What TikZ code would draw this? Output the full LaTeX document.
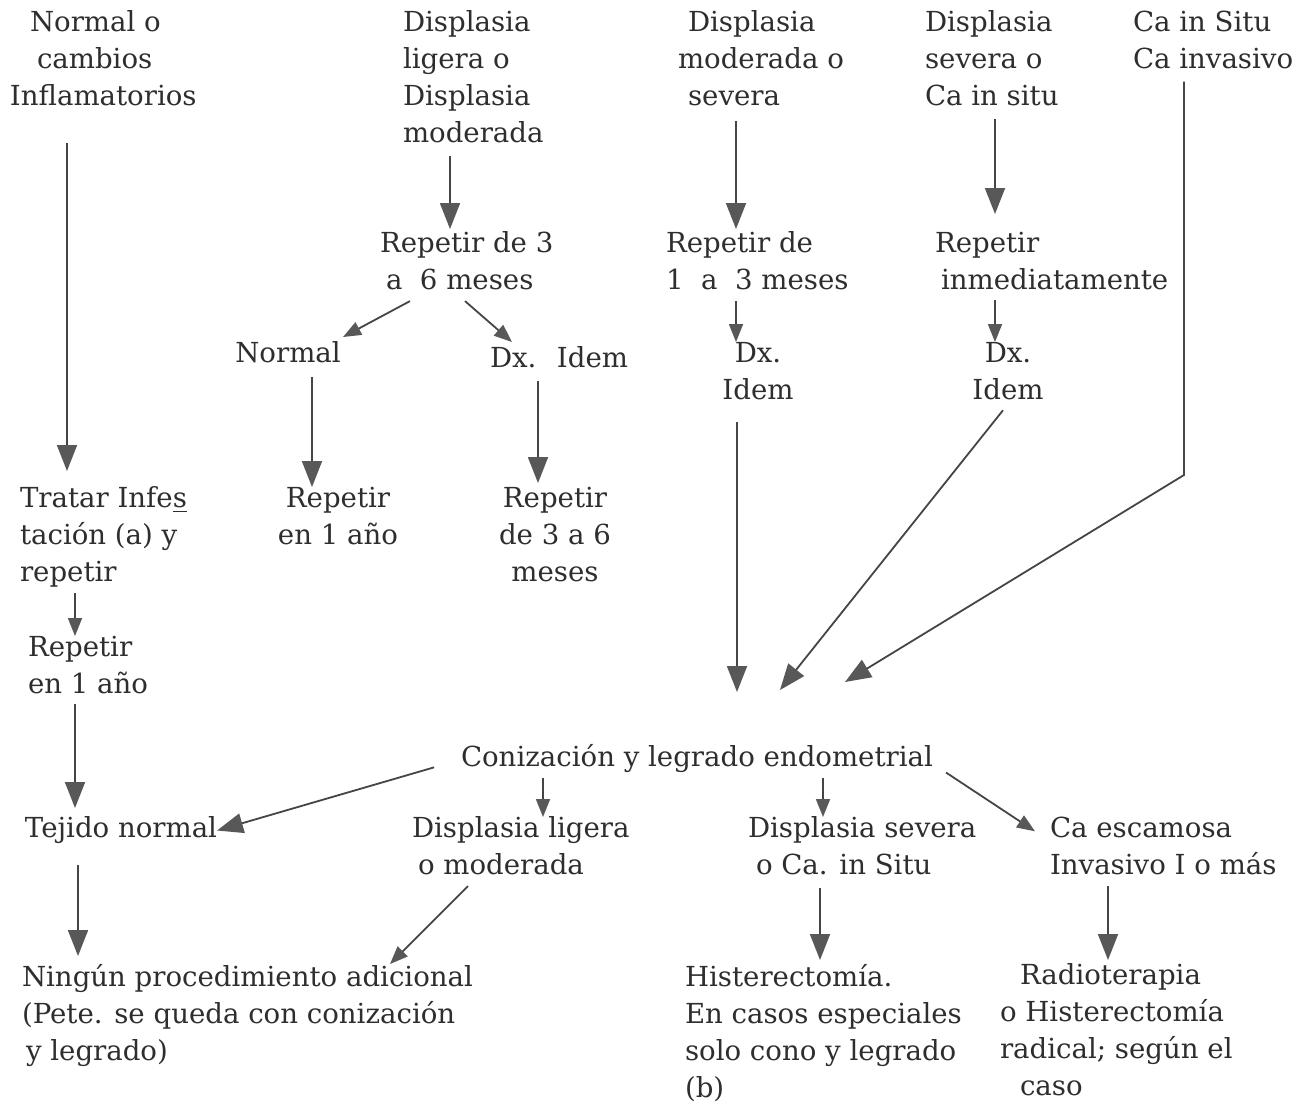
\documentclass[tikz,border=0pt]{standalone}
\usepackage{fontspec}
\setmainfont{DejaVu Serif}
\usetikzlibrary{arrows.meta,calc}
\definecolor{ink}{HTML}{2E2E2E}
\definecolor{lnk}{HTML}{454545}
\definecolor{hd}{HTML}{585858}
\begin{document}
\begin{tikzpicture}[x=0.5pt,y=-0.5pt,
  every node/.style={font=\fontsize{13.8}{18.5}\selectfont, text=ink, inner sep=0pt, outer sep=0pt, align=left,
    execute at begin node=\strut, execute at end node=\strut},
  arr/.style={draw=lnk, line width=0.9pt, -{Triangle[width=10pt,length=13pt,color=hd]}},
  sarr/.style={draw=lnk, line width=0.9pt, -{Triangle[width=7pt,length=9pt,color=hd]}}]
\fill[white] (0,0) rectangle (1316,1105);
\useasboundingbox (0,0) rectangle (1316,1105);

% top row
\node[anchor=north west] (n1) at (10,11) {\hspace*{10pt}Normal o\\\hspace*{13.5pt}cambios\\Inflamatorios};
\node[anchor=north west] (n2) at (403,11) {Displasia\\ligera o\\Displasia\\moderada};
\node[anchor=north west] (n3) at (678,11) {\hspace*{5pt}Displasia\\moderada o\\\hspace*{5pt}severa};
\node[anchor=north west] (n4) at (925,11) {Displasia\\severa o\\Ca in situ};
\node[anchor=north west] (n5) at (1133,11) {Ca in Situ\\Ca invasivo};

% second level
\node[anchor=north west] (r1) at (380,232) {Repetir de 3\\\hspace*{3pt}a \ 6 meses};
\node[anchor=north west] (r2) at (666,232) {Repetir de\\1 \ a \ 3 meses};
\node[anchor=north west] (r3) at (935,232) {Repetir\\\hspace*{3pt}inmediatamente};

\node[anchor=north] (norm) at (288,337) {Normal};
\node[anchor=north west] (dx1) at (490,342) {Dx. \ Idem};
\node[anchor=north, align=center] (dx2) at (758,342) {Dx.\\Idem};
\node[anchor=north, align=center] (dx3) at (1008,342) {Dx.\\Idem};

\node[anchor=north west] (trat) at (20,487) {Tratar Infe\underline{s}\\tación (a) y\\repetir};
\node[anchor=north, align=center] (rep1) at (338,487) {Repetir\\en 1 año};
\node[anchor=north, align=center] (rep2) at (555,487) {Repetir\\de 3 a 6\\meses};
\node[anchor=north west] (rep3) at (28,636) {Repetir\\en 1 año};

\node[anchor=north] (con) at (697,741) {Conización y legrado endometrial};
\node[anchor=north west] (tej) at (25,812) {Tejido normal};
\node[anchor=north west] (dl) at (412,817) {Displasia ligera\\\hspace*{3pt}o moderada};
\node[anchor=north west] (ds) at (748,817) {Displasia severa\\\hspace*{4pt}o Ca. in Situ};
\node[anchor=north west] (ce) at (1050,817) {Ca escamosa\\Invasivo I o más};

\node[anchor=north west] (ning) at (22,964) {Ningún procedimiento adicional\\(Pete. se queda con conización\\\hspace*{2pt}y legrado)};
\node[anchor=north west] (hist) at (685,964) {Histerectomía.\\En casos especiales\\solo cono y legrado\\(b)};
\node[anchor=north west] (radio) at (1000,964) {\hspace*{10pt}Radioterapia\\o Histerectomía\\radical; según el\\\hspace*{10pt}caso};

% connectors
\draw[arr, shorten <=13pt, shorten >=8pt] (n1.south -| 67,0) -- (trat.north -| 67,0);
\draw[arr, shorten <=1pt, shorten >=1.5pt] (n2.south -| 450,0) -- (r1.north -| 450,0);
\draw[arr, shorten <=2pt, shorten >=1.5pt] (n3.south -| 736,0) -- (r2.north -| 736,0);
\draw[arr, shorten <=1pt, shorten >=9pt] (n4.south -| 995,0) -- (r3.north -| 995,0);
\draw[sarr] (r1.south -| 410,0) -- (norm.north -| 343,0);
\draw[sarr] (r1.south -| 465,0) -- (dx1.north -| 512,0);
\draw[arr, shorten <=1.5pt] (norm.south -| 312,0) -- (rep1.north -| 312,0);
\draw[arr, shorten <=1pt, shorten >=2pt] (dx1.south -| 538,0) -- (rep2.north -| 538,0);
\draw[sarr] (r2.south -| 736,0) -- (dx2.north -| 736,0);
\draw[sarr] (r3.south -| 995,0) -- (dx3.north -| 995,0);

\coordinate (cA) at ($(con.north)+(40,-49)$);
\coordinate (cB) at ($(con.north)+(83,-51)$);
\coordinate (cC) at ($(con.north)+(148,-59)$);
\coordinate (bend) at (1184,475);
\draw[arr, shorten <=6pt] (dx2.south -| 737,0) -- (cA);
\draw[arr] (dx3.south -| 1003,0) -- (cB);
\draw[arr, shorten <=1pt] (n5.south -| 1184,0) -- (bend) -- (cC);

\draw[arr, shorten <=14pt] (con.west) -- (tej.east);
\draw[sarr] (con.south -| 543,0) -- (dl.north -| 543,0);
\draw[sarr] (con.south -| 823,0) -- (ds.north -| 823,0);
\draw[sarr] ($(con.east)+(13,13)$) -- ($(ce.west)+(-15,-20)$);
\draw[sarr] (dl.south -| 468,0) -- (ning.north -| 390,0);
\draw[arr, shorten <=8pt, shorten >=4pt] (tej.south -| 78,0) -- (ning.north -| 78,0);
\draw[arr, shorten <=1pt, shorten >=2pt] (ds.south -| 820,0) -- (hist.north -| 820,0);
\draw[arr, shorten <=0pt, shorten >=2pt] (ce.south -| 1108,0) -- (radio.north -| 1108,0);
\draw[sarr] (trat.south -| 75,0) -- (rep3.north -| 75,0);
\draw[arr, shorten >=2pt] (rep3.south -| 75,0) -- (tej.north -| 75,0);
\end{tikzpicture}
\end{document}
